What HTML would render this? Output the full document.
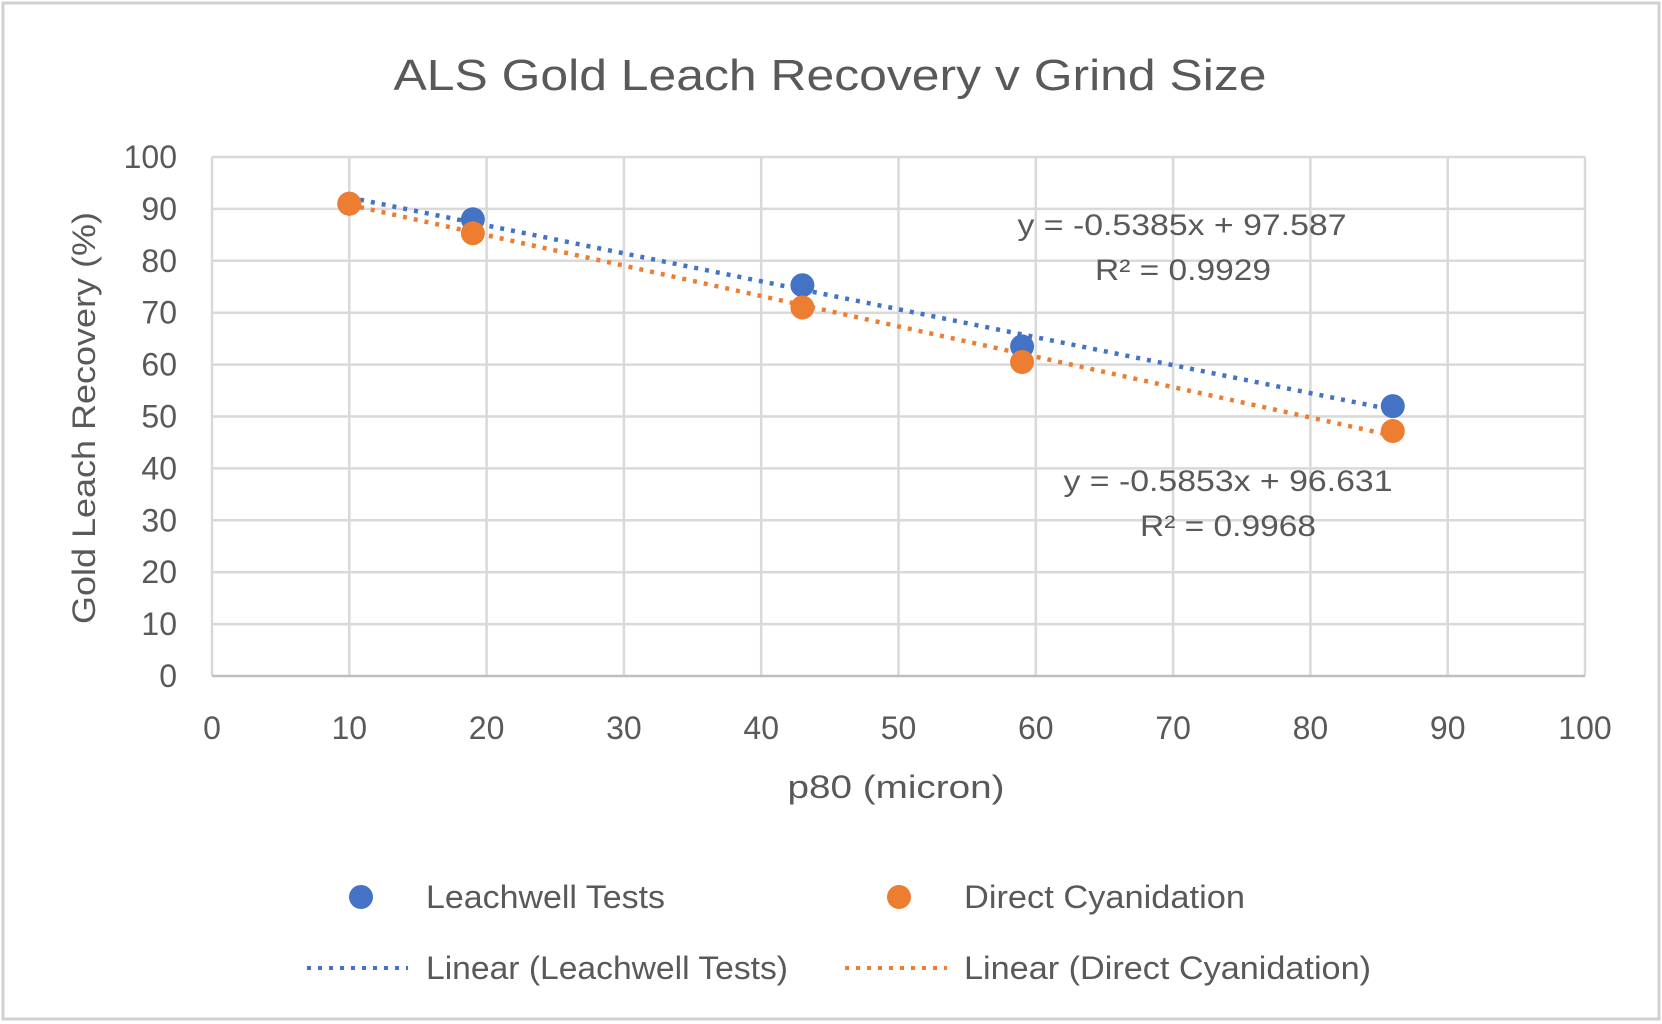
<!DOCTYPE html>
<html><head><meta charset="utf-8"><style>
html,body{margin:0;padding:0;background:#fff;}
svg{display:block;font-family:"Liberation Sans",sans-serif;}
</style></head><body>
<svg id="chart" width="1662" height="1024" viewBox="0 0 1662 1024">
<rect x="3" y="3" width="1656" height="1016" fill="#fff" stroke="#d0d0d0" stroke-width="3"/>
<text x="830" y="90" text-anchor="middle" font-size="44" fill="#595959" textLength="873" lengthAdjust="spacingAndGlyphs">ALS Gold Leach Recovery v Grind Size</text>
<g id="grid"></g>
<g id="ticks"></g>
<text transform="translate(95,418) rotate(-90)" text-anchor="middle" font-size="32" fill="#595959" textLength="412" lengthAdjust="spacingAndGlyphs">Gold Leach Recovery (%)</text>
<text x="896" y="798" text-anchor="middle" font-size="32" fill="#595959" textLength="217" lengthAdjust="spacingAndGlyphs">p80 (micron)</text>
<g id="trends"></g>
<g id="points"></g>
<g font-size="30" fill="#595959" text-anchor="middle">
<text x="1182" y="235" textLength="329" lengthAdjust="spacingAndGlyphs">y = -0.5385x + 97.587</text>
<text x="1183" y="280" textLength="176" lengthAdjust="spacingAndGlyphs">R² = 0.9929</text>
<text x="1228" y="491" textLength="329" lengthAdjust="spacingAndGlyphs">y = -0.5853x + 96.631</text>
<text x="1228" y="536" textLength="176" lengthAdjust="spacingAndGlyphs">R² = 0.9968</text>
</g>
<g font-size="32" fill="#595959">
<circle cx="361" cy="897" r="12" fill="#4472c4"/>
<text x="426" y="908" textLength="239" lengthAdjust="spacingAndGlyphs">Leachwell Tests</text>
<circle cx="899" cy="897" r="12" fill="#ed7d31"/>
<text x="964" y="908" textLength="281" lengthAdjust="spacingAndGlyphs">Direct Cyanidation</text>
<line x1="307" y1="968" x2="408" y2="968" stroke="#4472c4" stroke-width="4" stroke-dasharray="4 7"/>
<text x="426" y="979" textLength="362" lengthAdjust="spacingAndGlyphs">Linear (Leachwell Tests)</text>
<line x1="845" y1="968" x2="947" y2="968" stroke="#ed7d31" stroke-width="4" stroke-dasharray="4 7"/>
<text x="964" y="979" textLength="407" lengthAdjust="spacingAndGlyphs">Linear (Direct Cyanidation)</text>
</g>
</svg>
<script>
const xTicks = [0,10,20,30,40,50,60,70,80,90,100];
const yTicks = [0,10,20,30,40,50,60,70,80,90,100];
const xValues = [10,19,43,59,86];
const leachwell = [91,88,75.3,63.5,52];
const cyanidation = [91,85.3,71,60.5,47.2];
const leachwellFit = [-0.5385,97.587];
const cyanidationFit = [-0.5853,96.631];

const NS='http://www.w3.org/2000/svg';
const L=212,R=1585,T=157,B=676;
const sx=v=>L+(v-0)/100*(R-L);
const sy=v=>B-(v-0)/100*(B-T);
function mk(tag,attrs,parent){const e=document.createElementNS(NS,tag);for(const k in attrs)e.setAttribute(k,attrs[k]);parent.appendChild(e);return e;}
const grid=document.getElementById('grid'),ticks=document.getElementById('ticks');
xTicks.forEach(v=>{
  const g=mk('line',{x1:sx(v),x2:sx(v),y1:T,y2:B,stroke:'#d9d9d9','stroke-width':2.5},grid);
  
  
  const t=mk('text',{x:sx(v),y:739,'text-anchor':'middle','font-size':32,fill:'#595959'},ticks);
  t.textContent=v;
  
  
});
yTicks.forEach(v=>{
  const g=mk('line',{x1:L,x2:R,y1:sy(v),y2:sy(v),stroke:v===0?'#bfbfbf':'#d9d9d9','stroke-width':2.5},grid);
  
  
  const t=mk('text',{x:177,y:sy(v)+11,'text-anchor':'end','font-size':32,fill:'#595959'},ticks);
  t.textContent=v;
  
  
});
const trends=document.getElementById('trends'),pts=document.getElementById('points');
[[leachwellFit,'#4472c4','leachwell-trendline'],[cyanidationFit,'#ed7d31','cyanidation-trendline']].forEach(([f,c,n])=>{
  const x0=xValues[0],x1=xValues[xValues.length-1];
  const l=mk('line',{x1:sx(x0),y1:sy(f[0]*x0+f[1]),x2:sx(x1),y2:sy(f[0]*x1+f[1]),stroke:c,'stroke-width':4.5,'stroke-dasharray':'4 7'},trends);
  
  
});
[[leachwell,'#4472c4','leachwell-point'],[cyanidation,'#ed7d31','cyanidation-point']].forEach(([s,c,n])=>{
  s.forEach((v,i)=>{
    const p=mk('circle',{cx:sx(xValues[i]),cy:sy(v),r:12,fill:c},pts);
    
    
  });
});
</script>
</body></html>
